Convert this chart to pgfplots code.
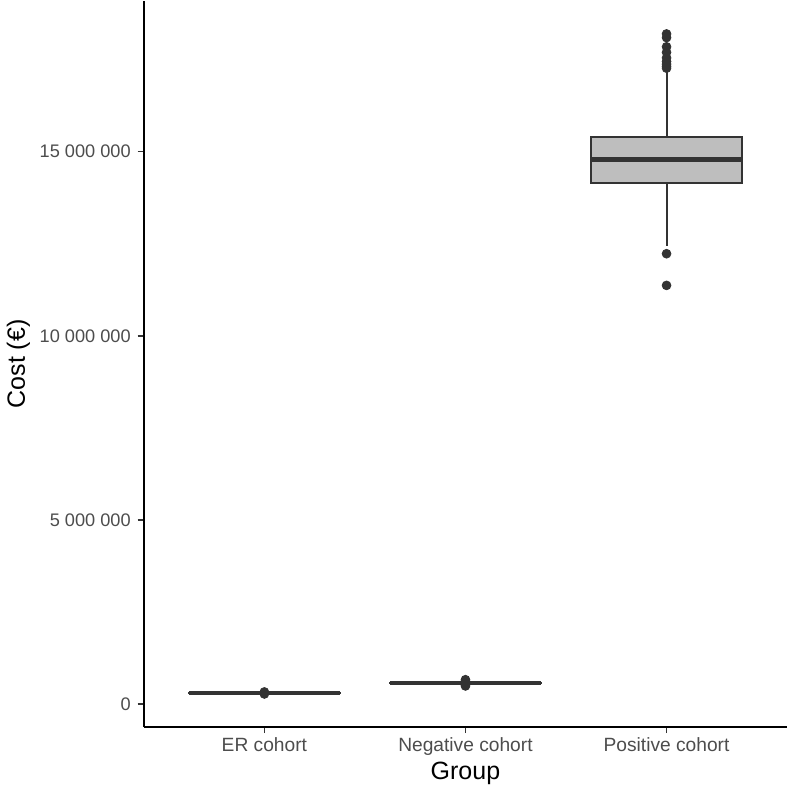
\documentclass[border=0pt]{standalone}
\usepackage{fontspec}
\setmainfont{Liberation Sans}
\usepackage{pgfplots}
\pgfplotsset{compat=1.18}
\definecolor{boxfill}{HTML}{BEBEBE}
\definecolor{dark}{HTML}{333333}
\definecolor{ticktext}{HTML}{4D4D4D}

\pgfplotsset{
    boxbody/.style={draw=dark, fill=boxfill, line width=1pt, mark=none},
    boxline/.style={draw=dark, line width=1pt, mark=none},
    boxmedian/.style={draw=dark, line width=2.3pt, mark=none},
    outlier/.style={only marks, mark=*, mark size=2.2pt,
        mark options={fill=dark, draw=dark}},
}

\begin{document}
\begin{tikzpicture}
% cost values in millions of euros
\begin{axis}[
    scale only axis,
    width=322pt, height=363.5pt,
    xmin=0.4, xmax=3.6,
    ymin=-0.63, ymax=19.1,
    axis x line*=bottom, axis y line*=left,
    axis line style={-, line width=0.8pt, black},
    xtick={1,2,3},
    xticklabels={ER cohort, Negative cohort, Positive cohort},
    ytick={0,5,10,15},
    yticklabels={0, 5 000 000, 10 000 000, 15 000 000},
    tick align=outside, tick pos=left,
    major tick length=3pt,
    tick style={line width=0.7pt, color=dark},
    yticklabel style={font=\fontsize{9.1}{10}\selectfont, text=ticktext},
    xticklabel style={font=\fontsize{9.6}{10}\selectfont, text=ticktext, yshift=1.5pt},
    xlabel={Group}, ylabel={Cost (€)},
    label style={font=\fontsize{12.5}{14}\selectfont},
    xlabel style={inner sep=1.5pt, yshift=1.5pt},
    ylabel style={yshift=-2pt},
    clip=false,
]
% ER cohort: q1 0.295, median 0.300, q3 0.305, whiskers 0.285-0.315
\addplot[boxline] coordinates {(1,0.285) (1,0.315)};
\addplot[boxbody] coordinates {(0.625,0.295) (1.375,0.295) (1.375,0.305) (0.625,0.305)} -- cycle;
\addplot[boxmedian] coordinates {(0.625,0.300) (1.375,0.300)};
\addplot[outlier] coordinates {(1,0.272) (1,0.328)};
% Negative cohort: q1 0.560, median 0.570, q3 0.580, whiskers 0.540-0.600
\addplot[boxline] coordinates {(2,0.540) (2,0.600)};
\addplot[boxbody] coordinates {(1.625,0.560) (2.375,0.560) (2.375,0.580) (1.625,0.580)} -- cycle;
\addplot[boxmedian] coordinates {(1.625,0.570) (2.375,0.570)};
\addplot[outlier] coordinates {(2,0.490) (2,0.520) (2,0.620) (2,0.660)};
% Positive cohort: q1 14.16, median 14.79, q3 15.41, whiskers 12.45-17.20
\addplot[boxline] coordinates {(3,12.45) (3,14.16)};
\addplot[boxline] coordinates {(3,15.41) (3,17.20)};
\addplot[boxbody] coordinates {(2.625,14.16) (3.375,14.16) (3.375,15.41) (2.625,15.41)} -- cycle;
\addplot[boxmedian] coordinates {(2.625,14.79) (3.375,14.79)};
\addplot[outlier] coordinates {
    (3,11.37) (3,12.23)
    (3,17.27) (3,17.32) (3,17.38) (3,17.45) (3,17.55)
    (3,17.70) (3,17.85) (3,18.10) (3,18.20)};
\end{axis}
\end{tikzpicture}
\end{document}
